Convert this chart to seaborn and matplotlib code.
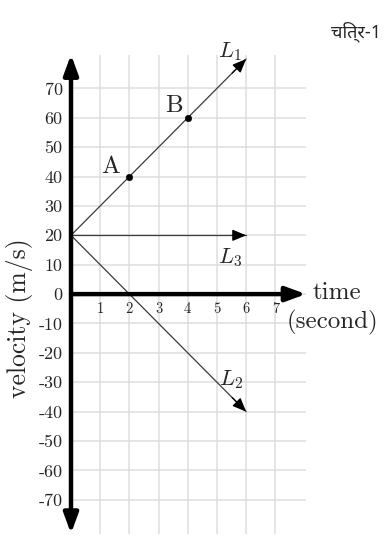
import matplotlib
matplotlib.use("Agg")
import matplotlib.pyplot as plt
import seaborn as sns
import pandas as pd

# ---- data ----
time_L1 = [0, 6]
vel_L1 = [20, 80]
time_L2 = [0, 6]
vel_L2 = [20, -40]
time_L3 = [0, 6]
vel_L3 = [20, 20]
point_names = ["A", "B"]
point_time = [2, 4]
point_vel = [40, 60]
x_ticks = [1, 2, 3, 4, 5, 6, 7]
y_ticks = [-70, -60, -50, -40, -30, -20, -10, 0, 10, 20, 30, 40, 50, 60, 70]
y_tick_labels = [str(v) for v in y_ticks]
line_names = ["L_1", "L_2", "L_3"]

sns.set_style("white")
plt.rcParams["mathtext.fontset"] = "cm"
plt.rcParams["axes.unicode_minus"] = False

fig = plt.figure(figsize=(3.87, 5.48), dpi=100)
ax = fig.add_axes([71 / 387, 14.4 / 548, 235 / 387, 479 / 548])

# lines
df = pd.DataFrame({
    "time": time_L1 + time_L2 + time_L3,
    "velocity": vel_L1 + vel_L2 + vel_L3,
    "line": ["L1"] * 2 + ["L2"] * 2 + ["L3"] * 2,
})
sns.lineplot(data=df, x="time", y="velocity", units="line", estimator=None,
             color="#3a3a3a", linewidth=0.9, ax=ax, legend=False)
for tx, vy in [(time_L1, vel_L1), (time_L2, vel_L2), (time_L3, vel_L3)]:
    ax.annotate("", xy=(tx[-1], vy[-1]),
                xytext=(tx[-1] - (tx[-1] - tx[0]) * 0.08, vy[-1] - (vy[-1] - vy[0]) * 0.08),
                arrowprops=dict(arrowstyle="-|>,head_length=0.6,head_width=0.25",
                                color="black", lw=0.9, shrinkA=0, shrinkB=0,
                                mutation_scale=14))

# points
sns.scatterplot(x=point_time, y=point_vel, color="black", s=22, edgecolor="black",
                ax=ax, zorder=5)
ax.set_xlabel("")
ax.set_ylabel("")

ax.set_xlim(0, 8.05)
ax.set_ylim(-81.5, 81.5)

# grid
ax.set_xticks(x_ticks)
ax.set_yticks(y_ticks)
ax.set_yticklabels(y_tick_labels, fontfamily="cmr10", fontsize=13)
ax.tick_params(axis="x", labelbottom=False, length=0)
ax.tick_params(axis="y", length=0, pad=6)
ax.grid(True, color="#dedede", linewidth=1.1)
ax.set_axisbelow(True)
for s in ax.spines.values():
    s.set_visible(False)

ax.text(1.34, 43.2, point_names[0], fontfamily="cmr10", fontsize=18, ha="center", va="center")
ax.text(3.54, 64.1, point_names[1], fontfamily="cmr10", fontsize=18, ha="center", va="center")

# line labels
ax.text(5.03, 80.6, "$" + line_names[0] + "$", fontsize=16, ha="left", va="baseline", clip_on=False)
ax.text(5.05, 10.5, "$" + line_names[2] + "$", fontsize=16, ha="left", va="baseline")
ax.text(5.07, -31, "$" + line_names[1] + "$", fontsize=16, ha="left", va="baseline")

# main axes with arrows
ax.annotate("", xy=(0, 81.5), xytext=(0, -81.5), annotation_clip=False,
            arrowprops=dict(arrowstyle="<|-|>,head_length=0.6,head_width=0.22",
                            color="black", lw=3.2, shrinkA=0, shrinkB=0, mutation_scale=20))
ax.annotate("", xy=(8.05, 0), xytext=(0, 0), annotation_clip=False,
            arrowprops=dict(arrowstyle="-|>,head_length=0.6,head_width=0.22",
                            color="black", lw=3.2, shrinkA=0, shrinkB=0, mutation_scale=20))

# x tick labels
for t in x_ticks:
    ax.annotate(str(t), xy=(t, 0), xytext=(0, -6), textcoords="offset points",
                ha="center", va="top", fontfamily="cmr10", fontsize=10.5)

# axis titles
ax.text(8.29, 0.5, "time", fontfamily="cmr10", fontsize=18, ha="left", va="center", clip_on=False)
ax.text(8.96, -9.5, "(second)", fontfamily="cmr10", fontsize=18, ha="center", va="center", clip_on=False)
fig.text(20 / 387, 1 - 318 / 548, "velocity (m/s)", fontfamily="cmr10", fontsize=18.5,
         rotation=90, ha="center", va="center")

fig.text(381 / 387, 1 - 32 / 548, "चित्र-1",
         family=["Noto Sans Devanagari", "Hind", "Anek Devanagari", "DejaVu Sans"],
         fontsize=13, ha="right", va="center")

fig.savefig("out.png", dpi=100)
